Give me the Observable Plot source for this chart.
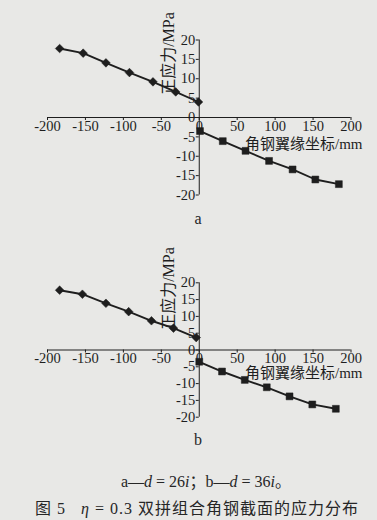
<!DOCTYPE html>
<html><head><meta charset="utf-8">
<script src="https://cdn.jsdelivr.net/npm/d3@7"></script>
<script src="https://cdn.jsdelivr.net/npm/@observablehq/plot@0.6"></script>
<style>
html,body{margin:0;padding:0;background:#e8e8e6;}
#wrap{position:relative;width:377px;height:520px;overflow:hidden;font-family:"Liberation Serif","Noto Sans CJK SC",serif;color:#262626;}
.chart{position:absolute;left:0;width:377px;}
.chart svg{font-family:"Liberation Serif","Noto Sans CJK SC",serif !important;overflow:visible;}
.chart svg text{font-family:"Liberation Serif","Noto Sans CJK SC",serif !important;}
.lbl{position:absolute;font-size:16px;transform:translate(-50%,-50%);white-space:nowrap;}
</style></head><body>
<div id="wrap">
 <div id="chartA" class="chart" style="top:0"></div>
 <div class="lbl" style="left:198px;top:219px">a</div>
 <div id="chartB" class="chart" style="top:240px"></div>
 <div class="lbl" style="left:198px;top:440px">b</div>
 <div class="lbl" style="left:206px;top:480px">a—<i>d</i> = 26<i>i</i>；b—<i>d</i> = 36<i>i</i>。</div>
 <div class="lbl" style="left:197px;top:507px;letter-spacing:1px">图 5 &nbsp; <i>η</i> = 0.3 双拼组合角钢截面的应力分布</div>
</div>
<script>
const xTicks = [-200, -150, -100, -50, 0, 50, 100, 150, 200];
const yTicks = [-20, -15, -10, -5, 0, 5, 10, 15, 20];
const yLabel = "正应力/MPa";
const xLabel = "角钢翼缘坐标/mm";

// chart a (d = 26i)
const aLeftX  = [-184, -153, -123, -92, -61, -31, -1];
const aLeftY  = [17.8, 16.6, 14.1, 11.6, 9.2, 6.6, 4.0];
const aRightX = [1, 31, 61, 92, 123, 153, 184];
const aRightY = [-3.5, -6.1, -8.6, -11.2, -13.4, -16.0, -17.2];

// chart b (d = 36i)
const bLeftX  = [-184, -154, -123, -93, -63, -34, -4];
const bLeftY  = [17.8, 16.6, 13.9, 11.4, 8.7, 6.5, 3.7];
const bRightX = [0, 30, 60, 89, 119, 149, 180];
const bRightY = [-3.5, -6.4, -8.9, -11.1, -13.8, -16.2, -17.5];

const FONT = "Liberation Serif, Noto Sans CJK SC, serif";

function chart({leftX, leftY, rightX, rightY, height, mt, mb, yTitleDy, xTitleDy}) {
  const W = 377, ml = 47, mr = 26.5;
  const frameW = W - ml - mr, frameH = height - mt - mb;
  const left = leftX.map((x, i) => ({x, y: leftY[i]}));
  const right = rightX.map((x, i) => ({x, y: rightY[i]}));
  const ink = "#1e1e1e";
  return Plot.plot({
    width: W, height,
    marginLeft: ml, marginRight: mr, marginTop: mt, marginBottom: mb,
    style: {background: "transparent", color: ink, fontFamily: FONT, fontSize: "14.5px"},
    x: {domain: [-200, 200]},
    y: {domain: [-20, 20]},
    marks: [
      Plot.ruleY([0], {stroke: ink, strokeWidth: 1}),
      Plot.ruleX([0], {stroke: ink, strokeWidth: 1}),
      Plot.axisX(xTicks, {anchor: "bottom", dy: -frameH / 2, tickSize: 3, tickPadding: 0, tickFormat: d => String(d), label: null, stroke: ink, fill: ink, fontSize: 14.5, fontFamily: FONT}),
      Plot.axisY(yTicks, {anchor: "left", dx: frameW / 2, tickSize: 3, tickPadding: 1, tickFormat: d => String(d), label: null, stroke: ink, fill: ink, fontSize: 14.5, fontFamily: FONT}),
      Plot.line(left, {x: "x", y: "y", stroke: ink, strokeWidth: 1.9}),
      Plot.line(right, {x: "x", y: "y", stroke: ink, strokeWidth: 1.9}),
      Plot.dot(left, {x: "x", y: "y", symbol: "diamond2", fill: ink, stroke: ink, strokeWidth: 0.5, r: 3.9}),
      Plot.dot(right, {x: "x", y: "y", symbol: "square", fill: ink, stroke: ink, strokeWidth: 0.5, r: 3.9}),
      Plot.text([yLabel], {frameAnchor: "left", textAnchor: "middle", lineAnchor: "middle", rotate: -90, dx: 121, dy: yTitleDy, fontSize: 16, fontFamily: FONT, fill: ink}),
      Plot.text([xLabel], {frameAnchor: "right", textAnchor: "end", lineAnchor: "middle", dx: 11.5, dy: xTitleDy, fontSize: 15, fontFamily: FONT, fill: ink})
    ]
  });
}

document.getElementById("chartA").append(chart({
  leftX: aLeftX, leftY: aLeftY, rightX: aRightX, rightY: aRightY,
  height: 205, mt: 39.5, mb: 10.5, yTitleDy: -64, xTitleDy: 27
}));
document.getElementById("chartB").append(chart({
  leftX: bLeftX, leftY: bLeftY, rightX: bRightX, rightY: bRightY,
  height: 185, mt: 42.3, mb: 8.3, yTitleDy: -61.5, xTitleDy: 23
}));
</script>
</body></html>
